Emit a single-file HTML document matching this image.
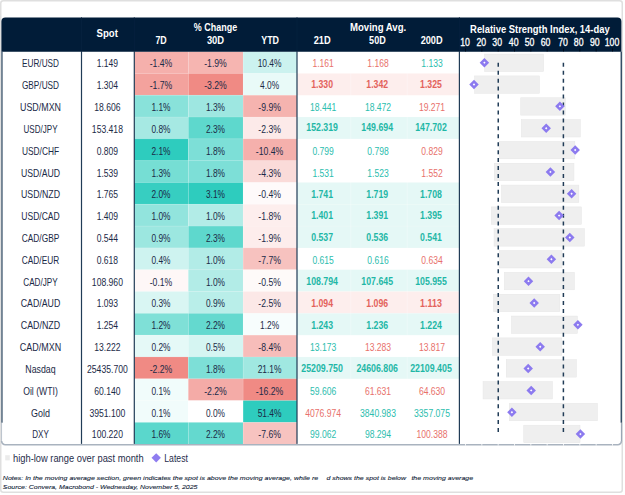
<!DOCTYPE html>
<html><head><meta charset="utf-8"><title>FX table</title>
<style>
html,body{margin:0;padding:0;background:#fff;}
body{width:625px;height:495px;overflow:hidden;}
svg{display:block;font-family:"Liberation Sans",sans-serif;}
text{font-size:10.2px;fill:#1b2a47;text-anchor:middle;}
.h{fill:#fff;font-weight:bold;font-size:10.5px;}
.b{font-weight:bold;}
.r{fill:#e8716b;}
.g{fill:#2bbdae;}
.r.b{fill:#e3625c;}
.g.b{fill:#1fb7a6;}
.l{text-anchor:start;}
.w{fill:#fff;}
</style></head><body>
<svg width="625" height="495" viewBox="0 0 625 495">

<rect x="0.75" y="0.75" width="621.5" height="491.5" rx="2.5" fill="#fff" stroke="#dfdfdf" stroke-width="1.5"/>
<rect x="134.30" y="51.60" width="53.90" height="21.86" fill="#f5b0ac"/>
<rect x="188.20" y="51.60" width="54.80" height="21.86" fill="#f6b5b1"/>
<rect x="243.00" y="51.60" width="54.00" height="21.86" fill="#ccf2ef"/>
<rect x="134.30" y="73.41" width="53.90" height="21.86" fill="#f3a29d"/>
<rect x="188.20" y="73.41" width="54.80" height="21.86" fill="#f08a84"/>
<rect x="243.00" y="73.41" width="54.00" height="21.86" fill="#e9faf8"/>
<rect x="297.00" y="73.41" width="162.40" height="21.86" fill="#fdeeed"/>
<rect x="134.30" y="95.22" width="53.90" height="21.86" fill="#89e2da"/>
<rect x="188.20" y="95.22" width="54.80" height="21.86" fill="#9ee7e1"/>
<rect x="243.00" y="95.22" width="54.00" height="21.86" fill="#f5b3af"/>
<rect x="134.30" y="117.03" width="53.90" height="21.86" fill="#a6e9e3"/>
<rect x="188.20" y="117.03" width="54.80" height="21.86" fill="#5ed8cd"/>
<rect x="243.00" y="117.03" width="54.00" height="21.86" fill="#fceae9"/>
<rect x="297.00" y="117.03" width="162.40" height="21.86" fill="#e5f8f6"/>
<rect x="134.30" y="138.84" width="53.90" height="21.86" fill="#2eccbe"/>
<rect x="188.20" y="138.84" width="54.80" height="21.86" fill="#7ddfd7"/>
<rect x="243.00" y="138.84" width="54.00" height="21.86" fill="#f5b0ac"/>
<rect x="134.30" y="160.65" width="53.90" height="21.86" fill="#76ded4"/>
<rect x="188.20" y="160.65" width="54.80" height="21.86" fill="#7ddfd7"/>
<rect x="243.00" y="160.65" width="54.00" height="21.86" fill="#fadbd9"/>
<rect x="134.30" y="182.46" width="53.90" height="21.86" fill="#37cec1"/>
<rect x="188.20" y="182.46" width="54.80" height="21.86" fill="#2eccbe"/>
<rect x="243.00" y="182.46" width="54.00" height="21.86" fill="#fefafa"/>
<rect x="297.00" y="182.46" width="162.40" height="21.86" fill="#e5f8f6"/>
<rect x="134.30" y="204.27" width="53.90" height="21.86" fill="#92e4dd"/>
<rect x="188.20" y="204.27" width="54.80" height="21.86" fill="#b2ece7"/>
<rect x="243.00" y="204.27" width="54.00" height="21.86" fill="#fdeeed"/>
<rect x="297.00" y="204.27" width="162.40" height="21.86" fill="#e5f8f6"/>
<rect x="134.30" y="226.08" width="53.90" height="21.86" fill="#9ce7e0"/>
<rect x="188.20" y="226.08" width="54.80" height="21.86" fill="#5ed8cd"/>
<rect x="243.00" y="226.08" width="54.00" height="21.86" fill="#fdedec"/>
<rect x="297.00" y="226.08" width="162.40" height="21.86" fill="#e5f8f6"/>
<rect x="134.30" y="247.89" width="53.90" height="21.86" fill="#cef3f0"/>
<rect x="188.20" y="247.89" width="54.80" height="21.86" fill="#b2ece7"/>
<rect x="243.00" y="247.89" width="54.00" height="21.86" fill="#f7c2bf"/>
<rect x="134.30" y="269.70" width="53.90" height="21.86" fill="#fef7f7"/>
<rect x="188.20" y="269.70" width="54.80" height="21.86" fill="#b2ece7"/>
<rect x="243.00" y="269.70" width="54.00" height="21.86" fill="#fefaf9"/>
<rect x="297.00" y="269.70" width="162.40" height="21.86" fill="#e5f8f6"/>
<rect x="134.30" y="291.51" width="53.90" height="21.86" fill="#d9f6f3"/>
<rect x="188.20" y="291.51" width="54.80" height="21.86" fill="#b9eee9"/>
<rect x="243.00" y="291.51" width="54.00" height="21.86" fill="#fce8e7"/>
<rect x="297.00" y="291.51" width="162.40" height="21.86" fill="#fdeeed"/>
<rect x="134.30" y="313.32" width="53.90" height="21.86" fill="#7fe0d7"/>
<rect x="188.20" y="313.32" width="54.80" height="21.86" fill="#64d9cf"/>
<rect x="243.00" y="313.32" width="54.00" height="21.86" fill="#f7fdfd"/>
<rect x="297.00" y="313.32" width="162.40" height="21.86" fill="#e5f8f6"/>
<rect x="134.30" y="335.13" width="53.90" height="21.86" fill="#e5f9f7"/>
<rect x="188.20" y="335.13" width="54.80" height="21.86" fill="#d5f5f2"/>
<rect x="243.00" y="335.13" width="54.00" height="21.86" fill="#f7bdba"/>
<rect x="134.30" y="356.94" width="53.90" height="21.86" fill="#f08a84"/>
<rect x="188.20" y="356.94" width="54.80" height="21.86" fill="#7ddfd7"/>
<rect x="243.00" y="356.94" width="54.00" height="21.86" fill="#a0e8e1"/>
<rect x="297.00" y="356.94" width="162.40" height="21.86" fill="#e5f8f6"/>
<rect x="134.30" y="378.75" width="53.90" height="21.86" fill="#f1fcfb"/>
<rect x="188.20" y="378.75" width="54.80" height="21.86" fill="#f4aba7"/>
<rect x="243.00" y="378.75" width="54.00" height="21.86" fill="#f08a84"/>
<rect x="134.30" y="400.56" width="53.90" height="21.86" fill="#f1fcfb"/>
<rect x="188.20" y="400.56" width="54.80" height="21.86" fill="#ffffff"/>
<rect x="243.00" y="400.56" width="54.00" height="21.86" fill="#2eccbe"/>
<rect x="134.30" y="422.37" width="53.90" height="21.86" fill="#5ad7cc"/>
<rect x="188.20" y="422.37" width="54.80" height="21.86" fill="#64d9cf"/>
<rect x="243.00" y="422.37" width="54.00" height="21.86" fill="#f7c3c0"/>
<rect x="188.00" y="51.60" width="1.00" height="392.58" fill="#fff" opacity=".2"/>
<rect x="242.80" y="51.60" width="1.00" height="392.58" fill="#fff" opacity=".2"/>
<rect x="350.30" y="51.60" width="1.00" height="392.58" fill="#fff" opacity=".3"/>
<rect x="406.70" y="51.60" width="1.00" height="392.58" fill="#fff" opacity=".3"/>
<rect x="134.30" y="72.96" width="325.10" height="0.90" fill="#fff" opacity=".13"/>
<rect x="134.30" y="94.77" width="325.10" height="0.90" fill="#fff" opacity=".13"/>
<rect x="134.30" y="116.58" width="325.10" height="0.90" fill="#fff" opacity=".13"/>
<rect x="134.30" y="138.39" width="325.10" height="0.90" fill="#fff" opacity=".13"/>
<rect x="134.30" y="160.20" width="325.10" height="0.90" fill="#fff" opacity=".13"/>
<rect x="134.30" y="182.01" width="325.10" height="0.90" fill="#fff" opacity=".13"/>
<rect x="134.30" y="203.82" width="325.10" height="0.90" fill="#fff" opacity=".13"/>
<rect x="134.30" y="225.63" width="325.10" height="0.90" fill="#fff" opacity=".13"/>
<rect x="134.30" y="247.44" width="325.10" height="0.90" fill="#fff" opacity=".13"/>
<rect x="134.30" y="269.25" width="325.10" height="0.90" fill="#fff" opacity=".13"/>
<rect x="134.30" y="291.06" width="325.10" height="0.90" fill="#fff" opacity=".13"/>
<rect x="134.30" y="312.87" width="325.10" height="0.90" fill="#fff" opacity=".13"/>
<rect x="134.30" y="334.68" width="325.10" height="0.90" fill="#fff" opacity=".13"/>
<rect x="134.30" y="356.49" width="325.10" height="0.90" fill="#fff" opacity=".13"/>
<rect x="134.30" y="378.30" width="325.10" height="0.90" fill="#fff" opacity=".13"/>
<rect x="134.30" y="400.11" width="325.10" height="0.90" fill="#fff" opacity=".13"/>
<rect x="134.30" y="421.92" width="325.10" height="0.90" fill="#fff" opacity=".13"/>
<path d="M1.4 51.8 V21.4 a4 4 0 0 1 4 -4 H617.4 a4 4 0 0 1 4 4 V51.8 Z" fill="#011c38"/>
<path d="M1.55 422.7 V441.2" fill="none" stroke="#b4bdc8" stroke-width="0.9"/>
<path d="M621.5 422.7 V441.2" fill="none" stroke="#9aa6b4" stroke-width="1.2"/>
<path d="M1.6 441 a3.7 3.75 0 0 0 3.7 3.75 H617.75 a3.7 3.75 0 0 0 3.7 -3.75" fill="none" stroke="#a9b3bf" stroke-width="1.6"/>
<rect x="1.40" y="51.60" width="1.15" height="371.10" fill="#213c57"/>
<rect x="620.60" y="51.60" width="1.30" height="371.10" fill="#213c57"/>
<rect x="80.90" y="51.60" width="1.20" height="392.28" fill="#213c57"/>
<rect x="81.00" y="17.40" width="1.00" height="34.20" fill="#05203d"/>
<rect x="133.70" y="51.60" width="1.20" height="392.28" fill="#213c57"/>
<rect x="133.80" y="17.40" width="1.00" height="34.20" fill="#05203d"/>
<rect x="296.40" y="51.60" width="1.20" height="392.28" fill="#213c57"/>
<rect x="296.50" y="17.40" width="1.00" height="34.20" fill="#05203d"/>
<rect x="458.80" y="51.60" width="1.20" height="392.28" fill="#213c57"/>
<rect x="458.90" y="17.40" width="1.00" height="34.20" fill="#05203d"/>
<text x="40.50" y="67.35" textLength="36.93" lengthAdjust="spacingAndGlyphs">EUR/USD</text>
<text x="107.40" y="67.35" textLength="21.37" lengthAdjust="spacingAndGlyphs">1.149</text>
<text x="161.00" y="67.35" textLength="22.64" lengthAdjust="spacingAndGlyphs">-1.4%</text>
<text x="215.50" y="67.35" textLength="22.64" lengthAdjust="spacingAndGlyphs">-1.9%</text>
<text x="269.60" y="67.35" textLength="23.89" lengthAdjust="spacingAndGlyphs">10.4%</text>
<text x="323.10" y="67.35" class="r" textLength="21.37" lengthAdjust="spacingAndGlyphs">1.161</text>
<text x="378.00" y="67.35" class="r" textLength="21.37" lengthAdjust="spacingAndGlyphs">1.168</text>
<text x="432.00" y="67.35" class="g" textLength="21.37" lengthAdjust="spacingAndGlyphs">1.133</text>
<text x="40.50" y="89.18" textLength="37.19" lengthAdjust="spacingAndGlyphs">GBP/USD</text>
<text x="107.40" y="89.18" textLength="21.37" lengthAdjust="spacingAndGlyphs">1.304</text>
<text x="161.00" y="89.18" textLength="22.64" lengthAdjust="spacingAndGlyphs">-1.7%</text>
<text x="215.50" y="89.18" textLength="22.64" lengthAdjust="spacingAndGlyphs">-3.2%</text>
<text x="269.60" y="89.18" textLength="19.04" lengthAdjust="spacingAndGlyphs">4.0%</text>
<text x="322.10" y="88.43" class="r b" textLength="21.80" lengthAdjust="spacingAndGlyphs">1.330</text>
<text x="377.20" y="88.43" class="r b" textLength="21.80" lengthAdjust="spacingAndGlyphs">1.342</text>
<text x="431.00" y="88.43" class="r b" textLength="21.80" lengthAdjust="spacingAndGlyphs">1.325</text>
<text x="40.50" y="111.01" textLength="40.93" lengthAdjust="spacingAndGlyphs">USD/MXN</text>
<text x="107.40" y="111.01" textLength="26.23" lengthAdjust="spacingAndGlyphs">18.606</text>
<text x="161.00" y="111.01" textLength="19.04" lengthAdjust="spacingAndGlyphs">1.1%</text>
<text x="215.50" y="111.01" textLength="19.04" lengthAdjust="spacingAndGlyphs">1.3%</text>
<text x="269.60" y="111.01" textLength="22.64" lengthAdjust="spacingAndGlyphs">-9.9%</text>
<text x="323.10" y="111.01" class="g" textLength="26.23" lengthAdjust="spacingAndGlyphs">18.441</text>
<text x="378.00" y="111.01" class="g" textLength="26.23" lengthAdjust="spacingAndGlyphs">18.472</text>
<text x="432.00" y="111.01" class="r" textLength="26.23" lengthAdjust="spacingAndGlyphs">19.271</text>
<text x="40.50" y="132.84" textLength="34.03" lengthAdjust="spacingAndGlyphs">USD/JPY</text>
<text x="107.40" y="132.84" textLength="31.08" lengthAdjust="spacingAndGlyphs">153.418</text>
<text x="161.00" y="132.84" textLength="19.04" lengthAdjust="spacingAndGlyphs">0.8%</text>
<text x="215.50" y="132.84" textLength="19.04" lengthAdjust="spacingAndGlyphs">2.3%</text>
<text x="269.60" y="132.84" textLength="22.64" lengthAdjust="spacingAndGlyphs">-2.3%</text>
<text x="322.10" y="131.49" class="g b" textLength="31.70" lengthAdjust="spacingAndGlyphs">152.319</text>
<text x="377.20" y="131.49" class="g b" textLength="31.70" lengthAdjust="spacingAndGlyphs">149.694</text>
<text x="431.00" y="131.49" class="g b" textLength="31.70" lengthAdjust="spacingAndGlyphs">147.702</text>
<text x="40.50" y="154.67" textLength="37.16" lengthAdjust="spacingAndGlyphs">USD/CHF</text>
<text x="107.40" y="154.67" textLength="21.37" lengthAdjust="spacingAndGlyphs">0.809</text>
<text x="161.00" y="154.67" textLength="19.04" lengthAdjust="spacingAndGlyphs">2.1%</text>
<text x="215.50" y="154.67" textLength="19.04" lengthAdjust="spacingAndGlyphs">1.8%</text>
<text x="269.60" y="154.67" textLength="27.49" lengthAdjust="spacingAndGlyphs">-10.4%</text>
<text x="323.10" y="154.67" class="g" textLength="21.37" lengthAdjust="spacingAndGlyphs">0.799</text>
<text x="378.00" y="154.67" class="g" textLength="21.37" lengthAdjust="spacingAndGlyphs">0.798</text>
<text x="432.00" y="154.67" class="r" textLength="21.37" lengthAdjust="spacingAndGlyphs">0.829</text>
<text x="40.50" y="176.50" textLength="39.11" lengthAdjust="spacingAndGlyphs">USD/AUD</text>
<text x="107.40" y="176.50" textLength="21.37" lengthAdjust="spacingAndGlyphs">1.539</text>
<text x="161.00" y="176.50" textLength="19.04" lengthAdjust="spacingAndGlyphs">1.3%</text>
<text x="215.50" y="176.50" textLength="19.04" lengthAdjust="spacingAndGlyphs">1.8%</text>
<text x="269.60" y="176.50" textLength="22.64" lengthAdjust="spacingAndGlyphs">-4.3%</text>
<text x="323.10" y="176.50" class="g" textLength="21.37" lengthAdjust="spacingAndGlyphs">1.531</text>
<text x="378.00" y="176.50" class="g" textLength="21.37" lengthAdjust="spacingAndGlyphs">1.523</text>
<text x="432.00" y="176.50" class="r" textLength="21.37" lengthAdjust="spacingAndGlyphs">1.552</text>
<text x="40.50" y="198.33" textLength="38.98" lengthAdjust="spacingAndGlyphs">USD/NZD</text>
<text x="107.40" y="198.33" textLength="21.37" lengthAdjust="spacingAndGlyphs">1.765</text>
<text x="161.00" y="198.33" textLength="19.04" lengthAdjust="spacingAndGlyphs">2.0%</text>
<text x="215.50" y="198.33" textLength="19.04" lengthAdjust="spacingAndGlyphs">3.1%</text>
<text x="269.60" y="198.33" textLength="22.64" lengthAdjust="spacingAndGlyphs">-0.4%</text>
<text x="322.10" y="197.58" class="g b" textLength="21.80" lengthAdjust="spacingAndGlyphs">1.741</text>
<text x="377.20" y="197.58" class="g b" textLength="21.80" lengthAdjust="spacingAndGlyphs">1.719</text>
<text x="431.00" y="197.58" class="g b" textLength="21.80" lengthAdjust="spacingAndGlyphs">1.708</text>
<text x="40.50" y="220.16" textLength="38.50" lengthAdjust="spacingAndGlyphs">USD/CAD</text>
<text x="107.40" y="220.16" textLength="21.37" lengthAdjust="spacingAndGlyphs">1.409</text>
<text x="161.00" y="220.16" textLength="19.04" lengthAdjust="spacingAndGlyphs">1.0%</text>
<text x="215.50" y="220.16" textLength="19.04" lengthAdjust="spacingAndGlyphs">1.0%</text>
<text x="269.60" y="220.16" textLength="22.64" lengthAdjust="spacingAndGlyphs">-1.8%</text>
<text x="322.10" y="219.41" class="g b" textLength="21.80" lengthAdjust="spacingAndGlyphs">1.401</text>
<text x="377.20" y="219.41" class="g b" textLength="21.80" lengthAdjust="spacingAndGlyphs">1.391</text>
<text x="431.00" y="219.41" class="g b" textLength="21.80" lengthAdjust="spacingAndGlyphs">1.395</text>
<text x="40.50" y="241.99" textLength="37.60" lengthAdjust="spacingAndGlyphs">CAD/GBP</text>
<text x="107.40" y="241.99" textLength="21.37" lengthAdjust="spacingAndGlyphs">0.544</text>
<text x="161.00" y="241.99" textLength="19.04" lengthAdjust="spacingAndGlyphs">0.9%</text>
<text x="215.50" y="241.99" textLength="19.04" lengthAdjust="spacingAndGlyphs">2.3%</text>
<text x="269.60" y="241.99" textLength="22.64" lengthAdjust="spacingAndGlyphs">-1.9%</text>
<text x="322.10" y="241.24" class="g b" textLength="21.80" lengthAdjust="spacingAndGlyphs">0.537</text>
<text x="377.20" y="241.24" class="g b" textLength="21.80" lengthAdjust="spacingAndGlyphs">0.536</text>
<text x="431.00" y="241.24" class="g b" textLength="21.80" lengthAdjust="spacingAndGlyphs">0.541</text>
<text x="40.50" y="263.82" textLength="37.34" lengthAdjust="spacingAndGlyphs">CAD/EUR</text>
<text x="107.40" y="263.82" textLength="21.37" lengthAdjust="spacingAndGlyphs">0.618</text>
<text x="161.00" y="263.82" textLength="19.04" lengthAdjust="spacingAndGlyphs">0.4%</text>
<text x="215.50" y="263.82" textLength="19.04" lengthAdjust="spacingAndGlyphs">1.0%</text>
<text x="269.60" y="263.82" textLength="22.64" lengthAdjust="spacingAndGlyphs">-7.7%</text>
<text x="323.10" y="263.82" class="g" textLength="21.37" lengthAdjust="spacingAndGlyphs">0.615</text>
<text x="378.00" y="263.82" class="g" textLength="21.37" lengthAdjust="spacingAndGlyphs">0.616</text>
<text x="432.00" y="263.82" class="r" textLength="21.37" lengthAdjust="spacingAndGlyphs">0.634</text>
<text x="40.50" y="285.65" textLength="34.45" lengthAdjust="spacingAndGlyphs">CAD/JPY</text>
<text x="107.40" y="285.65" textLength="31.08" lengthAdjust="spacingAndGlyphs">108.960</text>
<text x="161.00" y="285.65" textLength="22.64" lengthAdjust="spacingAndGlyphs">-0.1%</text>
<text x="215.50" y="285.65" textLength="19.04" lengthAdjust="spacingAndGlyphs">1.0%</text>
<text x="269.60" y="285.65" textLength="22.64" lengthAdjust="spacingAndGlyphs">-0.5%</text>
<text x="322.10" y="284.90" class="g b" textLength="31.70" lengthAdjust="spacingAndGlyphs">108.794</text>
<text x="377.20" y="284.90" class="g b" textLength="31.70" lengthAdjust="spacingAndGlyphs">107.645</text>
<text x="431.00" y="284.90" class="g b" textLength="31.70" lengthAdjust="spacingAndGlyphs">105.955</text>
<text x="40.50" y="307.48" textLength="39.52" lengthAdjust="spacingAndGlyphs">CAD/AUD</text>
<text x="107.40" y="307.48" textLength="21.37" lengthAdjust="spacingAndGlyphs">1.093</text>
<text x="161.00" y="307.48" textLength="19.04" lengthAdjust="spacingAndGlyphs">0.3%</text>
<text x="215.50" y="307.48" textLength="19.04" lengthAdjust="spacingAndGlyphs">0.9%</text>
<text x="269.60" y="307.48" textLength="22.64" lengthAdjust="spacingAndGlyphs">-2.5%</text>
<text x="322.10" y="306.73" class="r b" textLength="21.80" lengthAdjust="spacingAndGlyphs">1.094</text>
<text x="377.20" y="306.73" class="r b" textLength="21.80" lengthAdjust="spacingAndGlyphs">1.096</text>
<text x="431.00" y="306.73" class="r b" textLength="21.80" lengthAdjust="spacingAndGlyphs">1.113</text>
<text x="40.50" y="329.31" textLength="39.39" lengthAdjust="spacingAndGlyphs">CAD/NZD</text>
<text x="107.40" y="329.31" textLength="21.37" lengthAdjust="spacingAndGlyphs">1.254</text>
<text x="161.00" y="329.31" textLength="19.04" lengthAdjust="spacingAndGlyphs">1.2%</text>
<text x="215.50" y="329.31" textLength="19.04" lengthAdjust="spacingAndGlyphs">2.2%</text>
<text x="269.60" y="329.31" textLength="19.04" lengthAdjust="spacingAndGlyphs">1.2%</text>
<text x="322.10" y="328.56" class="g b" textLength="21.80" lengthAdjust="spacingAndGlyphs">1.243</text>
<text x="377.20" y="328.56" class="g b" textLength="21.80" lengthAdjust="spacingAndGlyphs">1.236</text>
<text x="431.00" y="328.56" class="g b" textLength="21.80" lengthAdjust="spacingAndGlyphs">1.224</text>
<text x="40.50" y="351.14" textLength="41.35" lengthAdjust="spacingAndGlyphs">CAD/MXN</text>
<text x="107.40" y="351.14" textLength="26.23" lengthAdjust="spacingAndGlyphs">13.222</text>
<text x="161.00" y="351.14" textLength="19.04" lengthAdjust="spacingAndGlyphs">0.2%</text>
<text x="215.50" y="351.14" textLength="19.04" lengthAdjust="spacingAndGlyphs">0.5%</text>
<text x="269.60" y="351.14" textLength="22.64" lengthAdjust="spacingAndGlyphs">-8.4%</text>
<text x="323.10" y="351.14" class="g" textLength="26.23" lengthAdjust="spacingAndGlyphs">13.173</text>
<text x="378.00" y="351.14" class="r" textLength="26.23" lengthAdjust="spacingAndGlyphs">13.283</text>
<text x="432.00" y="351.14" class="r" textLength="26.23" lengthAdjust="spacingAndGlyphs">13.817</text>
<text x="40.50" y="372.97" textLength="30.31" lengthAdjust="spacingAndGlyphs">Nasdaq</text>
<text x="107.40" y="372.97" textLength="40.79" lengthAdjust="spacingAndGlyphs">25435.700</text>
<text x="161.00" y="372.97" textLength="22.64" lengthAdjust="spacingAndGlyphs">-2.2%</text>
<text x="215.50" y="372.97" textLength="19.04" lengthAdjust="spacingAndGlyphs">1.8%</text>
<text x="269.60" y="372.97" textLength="23.89" lengthAdjust="spacingAndGlyphs">21.1%</text>
<text x="322.10" y="372.22" class="g b" textLength="41.61" lengthAdjust="spacingAndGlyphs">25209.750</text>
<text x="377.20" y="372.22" class="g b" textLength="41.61" lengthAdjust="spacingAndGlyphs">24606.806</text>
<text x="431.00" y="372.22" class="g b" textLength="41.61" lengthAdjust="spacingAndGlyphs">22109.405</text>
<text x="40.50" y="394.80" textLength="34.57" lengthAdjust="spacingAndGlyphs">Oil (WTI)</text>
<text x="107.40" y="394.80" textLength="26.23" lengthAdjust="spacingAndGlyphs">60.140</text>
<text x="161.00" y="394.80" textLength="19.04" lengthAdjust="spacingAndGlyphs">0.1%</text>
<text x="215.50" y="394.80" textLength="22.64" lengthAdjust="spacingAndGlyphs">-2.2%</text>
<text x="269.60" y="394.80" textLength="27.49" lengthAdjust="spacingAndGlyphs">-16.2%</text>
<text x="323.10" y="394.80" class="g" textLength="26.23" lengthAdjust="spacingAndGlyphs">59.606</text>
<text x="378.00" y="394.80" class="r" textLength="26.23" lengthAdjust="spacingAndGlyphs">61.631</text>
<text x="432.00" y="394.80" class="r" textLength="26.23" lengthAdjust="spacingAndGlyphs">64.630</text>
<text x="40.50" y="416.63" textLength="18.94" lengthAdjust="spacingAndGlyphs">Gold</text>
<text x="107.40" y="416.63" textLength="35.94" lengthAdjust="spacingAndGlyphs">3951.100</text>
<text x="161.00" y="416.63" textLength="19.04" lengthAdjust="spacingAndGlyphs">0.1%</text>
<text x="215.50" y="416.63" textLength="19.04" lengthAdjust="spacingAndGlyphs">0.0%</text>
<text x="269.60" y="416.63" textLength="23.89" lengthAdjust="spacingAndGlyphs">51.4%</text>
<text x="323.10" y="416.63" class="r" textLength="35.94" lengthAdjust="spacingAndGlyphs">4076.974</text>
<text x="378.00" y="416.63" class="g" textLength="35.94" lengthAdjust="spacingAndGlyphs">3840.983</text>
<text x="432.00" y="416.63" class="g" textLength="35.94" lengthAdjust="spacingAndGlyphs">3357.075</text>
<text x="40.50" y="438.46" textLength="16.61" lengthAdjust="spacingAndGlyphs">DXY</text>
<text x="107.40" y="438.46" textLength="31.08" lengthAdjust="spacingAndGlyphs">100.220</text>
<text x="161.00" y="438.46" textLength="19.04" lengthAdjust="spacingAndGlyphs">1.6%</text>
<text x="215.50" y="438.46" textLength="19.04" lengthAdjust="spacingAndGlyphs">2.2%</text>
<text x="269.60" y="438.46" textLength="22.64" lengthAdjust="spacingAndGlyphs">-7.6%</text>
<text x="323.10" y="438.46" class="g" textLength="26.23" lengthAdjust="spacingAndGlyphs">99.062</text>
<text x="378.00" y="438.46" class="g" textLength="26.23" lengthAdjust="spacingAndGlyphs">98.294</text>
<text x="432.00" y="438.46" class="r" textLength="31.08" lengthAdjust="spacingAndGlyphs">100.388</text>
<text x="107.20" y="37.40" class="h" textLength="21.30" lengthAdjust="spacingAndGlyphs">Spot</text>
<text x="215.50" y="30.80" class="h" textLength="43.30" lengthAdjust="spacingAndGlyphs">% Change</text>
<text x="161.10" y="44.30" class="h" textLength="11.30" lengthAdjust="spacingAndGlyphs">7D</text>
<text x="215.50" y="44.30" class="h" textLength="17.20" lengthAdjust="spacingAndGlyphs">30D</text>
<text x="270.10" y="44.30" class="h" textLength="17.80" lengthAdjust="spacingAndGlyphs">YTD</text>
<text x="378.10" y="30.80" class="h" textLength="56.20" lengthAdjust="spacingAndGlyphs">Moving Avg.</text>
<text x="322.20" y="44.30" class="h" textLength="17.00" lengthAdjust="spacingAndGlyphs">21D</text>
<text x="377.40" y="44.30" class="h" textLength="16.60" lengthAdjust="spacingAndGlyphs">50D</text>
<text x="431.60" y="44.30" class="h" textLength="21.90" lengthAdjust="spacingAndGlyphs">200D</text>
<text x="539.90" y="33.00" class="h" textLength="139.60" lengthAdjust="spacingAndGlyphs">Relative Strength Index, 14-day</text>
<text x="465.10" y="45.50" class="w" textLength="9.71" lengthAdjust="spacingAndGlyphs" style="font-size:10.2px;stroke:#fff;stroke-width:.3px">10</text>
<text x="481.30" y="45.50" class="w" textLength="9.71" lengthAdjust="spacingAndGlyphs" style="font-size:10.2px;stroke:#fff;stroke-width:.3px">20</text>
<text x="497.20" y="45.50" class="w" textLength="9.71" lengthAdjust="spacingAndGlyphs" style="font-size:10.2px;stroke:#fff;stroke-width:.3px">30</text>
<text x="513.70" y="45.50" class="w" textLength="9.71" lengthAdjust="spacingAndGlyphs" style="font-size:10.2px;stroke:#fff;stroke-width:.3px">40</text>
<text x="529.60" y="45.50" class="w" textLength="9.71" lengthAdjust="spacingAndGlyphs" style="font-size:10.2px;stroke:#fff;stroke-width:.3px">50</text>
<text x="545.60" y="45.50" class="w" textLength="9.71" lengthAdjust="spacingAndGlyphs" style="font-size:10.2px;stroke:#fff;stroke-width:.3px">60</text>
<text x="563.00" y="45.50" class="w" textLength="9.71" lengthAdjust="spacingAndGlyphs" style="font-size:10.2px;stroke:#fff;stroke-width:.3px">70</text>
<text x="578.70" y="45.50" class="w" textLength="9.71" lengthAdjust="spacingAndGlyphs" style="font-size:10.2px;stroke:#fff;stroke-width:.3px">80</text>
<text x="594.80" y="45.50" class="w" textLength="9.71" lengthAdjust="spacingAndGlyphs" style="font-size:10.2px;stroke:#fff;stroke-width:.3px">90</text>
<text x="612.00" y="45.50" class="w" textLength="14.56" lengthAdjust="spacingAndGlyphs" style="font-size:10.2px;stroke:#fff;stroke-width:.3px">100</text>
<rect x="465.00" y="48.40" width="1.00" height="3.00" fill="#000a18"/>
<rect x="465.00" y="443.90" width="1.00" height="1.70" fill="#fff" opacity=".8"/>
<rect x="481.33" y="48.40" width="1.00" height="3.00" fill="#000a18"/>
<rect x="481.33" y="443.90" width="1.00" height="1.70" fill="#fff" opacity=".8"/>
<rect x="497.67" y="48.40" width="1.00" height="3.00" fill="#000a18"/>
<rect x="497.67" y="443.90" width="1.00" height="1.70" fill="#fff" opacity=".8"/>
<rect x="514.00" y="48.40" width="1.00" height="3.00" fill="#000a18"/>
<rect x="514.00" y="443.90" width="1.00" height="1.70" fill="#fff" opacity=".8"/>
<rect x="530.33" y="48.40" width="1.00" height="3.00" fill="#000a18"/>
<rect x="530.33" y="443.90" width="1.00" height="1.70" fill="#fff" opacity=".8"/>
<rect x="546.66" y="48.40" width="1.00" height="3.00" fill="#000a18"/>
<rect x="546.66" y="443.90" width="1.00" height="1.70" fill="#fff" opacity=".8"/>
<rect x="563.00" y="48.40" width="1.00" height="3.00" fill="#000a18"/>
<rect x="563.00" y="443.90" width="1.00" height="1.70" fill="#fff" opacity=".8"/>
<rect x="579.33" y="48.40" width="1.00" height="3.00" fill="#000a18"/>
<rect x="579.33" y="443.90" width="1.00" height="1.70" fill="#fff" opacity=".8"/>
<rect x="595.66" y="48.40" width="1.00" height="3.00" fill="#000a18"/>
<rect x="595.66" y="443.90" width="1.00" height="1.70" fill="#fff" opacity=".8"/>
<rect x="612.00" y="48.40" width="1.00" height="3.00" fill="#000a18"/>
<rect x="612.00" y="443.90" width="1.00" height="1.70" fill="#fff" opacity=".8"/>
<rect x="484.55" y="54.10" width="59.10" height="17.40" fill="#efefef" stroke="#e6e6e6" stroke-width=".5"/>
<rect x="474.55" y="75.93" width="64.80" height="17.40" fill="#efefef" stroke="#e6e6e6" stroke-width=".5"/>
<rect x="520.75" y="97.76" width="44.50" height="17.40" fill="#efefef" stroke="#e6e6e6" stroke-width=".5"/>
<rect x="521.35" y="119.59" width="58.90" height="17.40" fill="#efefef" stroke="#e6e6e6" stroke-width=".5"/>
<rect x="499.25" y="141.42" width="75.60" height="17.40" fill="#efefef" stroke="#e6e6e6" stroke-width=".5"/>
<rect x="494.25" y="163.25" width="79.70" height="17.40" fill="#efefef" stroke="#e6e6e6" stroke-width=".5"/>
<rect x="501.45" y="185.08" width="77.40" height="17.40" fill="#efefef" stroke="#e6e6e6" stroke-width=".5"/>
<rect x="491.35" y="206.91" width="90.00" height="17.40" fill="#efefef" stroke="#e6e6e6" stroke-width=".5"/>
<rect x="494.05" y="228.74" width="90.30" height="17.40" fill="#efefef" stroke="#e6e6e6" stroke-width=".5"/>
<rect x="499.25" y="250.57" width="62.70" height="17.40" fill="#efefef" stroke="#e6e6e6" stroke-width=".5"/>
<rect x="504.35" y="272.40" width="70.00" height="17.40" fill="#efefef" stroke="#e6e6e6" stroke-width=".5"/>
<rect x="493.45" y="294.23" width="66.40" height="17.40" fill="#efefef" stroke="#e6e6e6" stroke-width=".5"/>
<rect x="511.45" y="316.06" width="66.00" height="17.40" fill="#efefef" stroke="#e6e6e6" stroke-width=".5"/>
<rect x="492.45" y="337.89" width="69.30" height="17.40" fill="#efefef" stroke="#e6e6e6" stroke-width=".5"/>
<rect x="506.25" y="359.72" width="70.20" height="17.40" fill="#efefef" stroke="#e6e6e6" stroke-width=".5"/>
<rect x="483.05" y="381.55" width="69.40" height="17.40" fill="#efefef" stroke="#e6e6e6" stroke-width=".5"/>
<rect x="509.25" y="403.38" width="88.20" height="17.40" fill="#efefef" stroke="#e6e6e6" stroke-width=".5"/>
<rect x="523.75" y="425.21" width="56.30" height="17.40" fill="#efefef" stroke="#e6e6e6" stroke-width=".5"/>
<line x1="498.25" x2="498.25" y1="62.8" y2="431.9" stroke="#213c57" stroke-width="1.5" stroke-dasharray="4 3.94"/>
<line x1="563.40" x2="563.40" y1="62.8" y2="431.9" stroke="#213c57" stroke-width="1.5" stroke-dasharray="4 3.94"/>
<rect x="-2.1" y="-2.1" width="4.2" height="4.2" fill="#fff" stroke="#8c7aef" stroke-width="2.5" transform="translate(484.4 62.65) rotate(45)"/>
<rect x="-2.1" y="-2.1" width="4.2" height="4.2" fill="#fff" stroke="#8c7aef" stroke-width="2.5" transform="translate(474.0 84.50) rotate(45)"/>
<rect x="-2.1" y="-2.1" width="4.2" height="4.2" fill="#fff" stroke="#8c7aef" stroke-width="2.5" transform="translate(559.9 106.35) rotate(45)"/>
<rect x="-2.1" y="-2.1" width="4.2" height="4.2" fill="#fff" stroke="#8c7aef" stroke-width="2.5" transform="translate(546.2 128.20) rotate(45)"/>
<rect x="-2.1" y="-2.1" width="4.2" height="4.2" fill="#fff" stroke="#8c7aef" stroke-width="2.5" transform="translate(575.2 150.05) rotate(45)"/>
<rect x="-2.1" y="-2.1" width="4.2" height="4.2" fill="#fff" stroke="#8c7aef" stroke-width="2.5" transform="translate(550.4 171.90) rotate(45)"/>
<rect x="-2.1" y="-2.1" width="4.2" height="4.2" fill="#fff" stroke="#8c7aef" stroke-width="2.5" transform="translate(571.6 193.75) rotate(45)"/>
<rect x="-2.1" y="-2.1" width="4.2" height="4.2" fill="#fff" stroke="#8c7aef" stroke-width="2.5" transform="translate(559.1 215.60) rotate(45)"/>
<rect x="-2.1" y="-2.1" width="4.2" height="4.2" fill="#fff" stroke="#8c7aef" stroke-width="2.5" transform="translate(569.8 237.45) rotate(45)"/>
<rect x="-2.1" y="-2.1" width="4.2" height="4.2" fill="#fff" stroke="#8c7aef" stroke-width="2.5" transform="translate(551.4 259.30) rotate(45)"/>
<rect x="-2.1" y="-2.1" width="4.2" height="4.2" fill="#fff" stroke="#8c7aef" stroke-width="2.5" transform="translate(528.5 281.15) rotate(45)"/>
<rect x="-2.1" y="-2.1" width="4.2" height="4.2" fill="#fff" stroke="#8c7aef" stroke-width="2.5" transform="translate(534.2 303.00) rotate(45)"/>
<rect x="-2.1" y="-2.1" width="4.2" height="4.2" fill="#fff" stroke="#8c7aef" stroke-width="2.5" transform="translate(577.9 324.85) rotate(45)"/>
<rect x="-2.1" y="-2.1" width="4.2" height="4.2" fill="#fff" stroke="#8c7aef" stroke-width="2.5" transform="translate(540.2 346.70) rotate(45)"/>
<rect x="-2.1" y="-2.1" width="4.2" height="4.2" fill="#fff" stroke="#8c7aef" stroke-width="2.5" transform="translate(528.2 368.55) rotate(45)"/>
<rect x="-2.1" y="-2.1" width="4.2" height="4.2" fill="#fff" stroke="#8c7aef" stroke-width="2.5" transform="translate(531.2 390.40) rotate(45)"/>
<rect x="-2.1" y="-2.1" width="4.2" height="4.2" fill="#fff" stroke="#8c7aef" stroke-width="2.5" transform="translate(511.9 412.25) rotate(45)"/>
<rect x="-2.1" y="-2.1" width="4.2" height="4.2" fill="#fff" stroke="#8c7aef" stroke-width="2.5" transform="translate(580.4 434.10) rotate(45)"/>
<rect x="5.20" y="455.20" width="4.60" height="5.20" fill="#ebebeb"/>
<text x="13.00" y="461.60" class="l" textLength="130.60" lengthAdjust="spacingAndGlyphs" style="font-size:10.4px;fill:#1f2d4a">high-low range over past month</text>
<rect x="-3.3" y="-3.3" width="6.6" height="6.6" fill="#8f7df0" transform="translate(156.2 457.8) rotate(45)"/>
<text x="164.30" y="461.60" class="l" textLength="23.60" lengthAdjust="spacingAndGlyphs" style="font-size:10.4px;fill:#1f2d4a">Latest</text>
<text x="2.80" y="479.80" class="l" textLength="315.40" lengthAdjust="spacingAndGlyphs" style="font-size:6.1px;font-style:italic;fill:#101c36;stroke:#101c36;stroke-width:.1px">Notes: In the moving average section, green indicates the spot is above the moving average, while re</text>
<text x="326.50" y="479.80" class="l" textLength="79.50" lengthAdjust="spacingAndGlyphs" style="font-size:6.1px;font-style:italic;fill:#101c36;stroke:#101c36;stroke-width:.1px">d shows the spot is below</text>
<text x="411.40" y="479.80" class="l" textLength="61.80" lengthAdjust="spacingAndGlyphs" style="font-size:6.1px;font-style:italic;fill:#101c36;stroke:#101c36;stroke-width:.1px">the moving average</text>
<text x="2.80" y="489.10" class="l" textLength="194.60" lengthAdjust="spacingAndGlyphs" style="font-size:6.1px;font-style:italic;fill:#101c36;stroke:#101c36;stroke-width:.1px">Source: Convera, Macrobond - Wednesday, November 5, 2025</text>
</svg></body></html>
